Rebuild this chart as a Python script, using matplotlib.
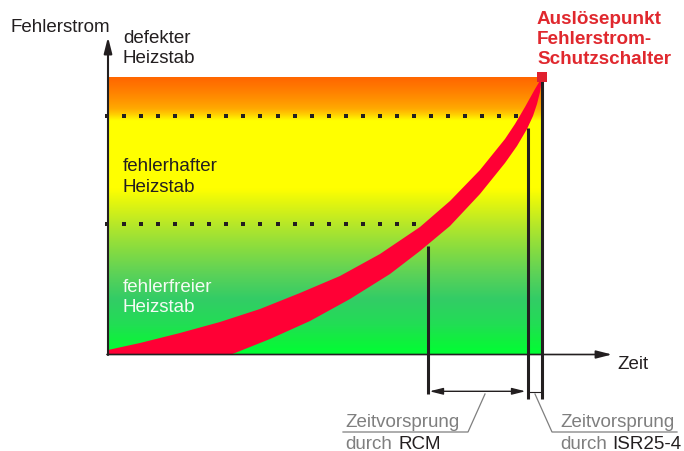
import numpy as np
import matplotlib
matplotlib.use('Agg')
import matplotlib.pyplot as plt
from matplotlib.colors import to_rgb
from matplotlib.patches import Rectangle

plt.rcParams['font.family'] = ['Liberation Sans', 'DejaVu Sans']

# ---------------- data (time / fault-current units) ----------------
upper_t = [0, 32, 72, 112, 152, 192, 232, 272, 312, 342, 372, 397, 407, 417, 422, 427, 430, 434]
upper_i = [4, 11, 21, 32, 45, 61, 78, 100, 127, 153, 184, 215, 230, 247, 256, 265, 270, 277]
lower_t = [0, 62, 122, 162, 202, 242, 282, 312, 342, 372, 397, 409, 419, 425, 429, 432, 434]
lower_i = [-41, -21, -1, 15, 33, 55, 80, 103, 128, 160, 191, 208, 225, 238, 250, 262, 277]

t_end = 434
i_top = 276.3
thresholds_i = [130, 238]           # fehlerhafter / defekter limit
thresholds_end_t = [307, 409]
marker_t = [319.5, 419.5, 434]      # RCM, ISR25-4, trip
marker_i_start = [108, 226, 276.3]
trip_point = (433.5, 277.5)

zone_labels = ['defekter\nHeizstab', 'fehlerhafter\nHeizstab', 'fehlerfreier\nHeizstab']
zone_baselines = [(312.3, 292.3), (184, 163.3), (63.3, 42.7)]
zone_colors = ['#231F20', '#231F20', '#F4FBF4']
trip_label = ['Auslösepunkt', 'Fehlerstrom-', 'Schutzschalter']

grad_stops = [(0, '#00FF33'), (15, '#12EE40'), (30, '#22DD55'), (55, '#33CC66'),
              (80, '#5CD258'), (105, '#88DC40'), (130, '#B8E828'), (150, '#E0F510'),
              (165, '#FFFF00'), (233, '#FFFF00'), (239, '#FFD000'), (245, '#FFAA00'),
              (255, '#FF9000'), (265, '#FF7A00'), (276.3, '#FF6600')]

dark = '#231F20'
gray = '#7F7F7F'
red_band = '#FF0035'
red_text = '#E0282E'
fs = 13.5

fig = plt.figure(figsize=(6.84, 4.52), dpi=100)
ax = fig.add_axes([0, 0, 1, 1])
ax.set_xlim(-108, 576)
ax.set_ylim(-97, 355)
ax.axis('off')

# gradient background
ys = np.linspace(0, i_top, 600)
sy = [s[0] for s in grad_stops]
rgb = np.array([to_rgb(s[1]) for s in grad_stops])
img = np.stack([np.interp(ys, sy, rgb[:, k]) for k in range(3)], axis=-1)[:, None, :]
ax.imshow(img, extent=[0, t_end, 0, i_top], origin='lower', aspect='auto',
          interpolation='bilinear', zorder=1)

# dotted thresholds (square dots)
dot_step = 17.05
for yi, te in zip(thresholds_i, thresholds_end_t):
    xs = np.arange(-1, te + 1, dot_step)
    ax.plot(xs, np.full_like(xs, yi), ls='none', marker='s', ms=3.1, mew=0,
            color=dark, zorder=2)

# red band
clip = Rectangle((0, 0), t_end, i_top + 2, transform=ax.transData)
poly_t = list(upper_t) + list(lower_t[::-1])
poly_i = list(upper_i) + list(lower_i[::-1])
band = ax.fill(poly_t, poly_i, color=red_band, lw=0, zorder=3)[0]
band.set_clip_path(clip)

# vertical marker lines
ends = [-40, -45, -45]
for t, i0, e in zip(marker_t, marker_i_start, ends):
    ax.plot([t, t], [i0, e], color=dark, lw=2.2, solid_capstyle='butt', zorder=4)

# trip point square
ax.plot(*trip_point, marker='s', ms=6.5, color='#E0202E', mew=0, zorder=5)

# axes with arrows
ax.annotate('', xy=(0, 317), xytext=(0, -1),
            arrowprops=dict(arrowstyle='-|>,head_length=0.95,head_width=0.24',
                            mutation_scale=10, lw=1.5, color=dark,
                            shrinkA=0, shrinkB=0), zorder=6)
ax.annotate('', xy=(504, -0.5), xytext=(-1, -0.5),
            arrowprops=dict(arrowstyle='-|>,head_length=0.95,head_width=0.24',
                            mutation_scale=10, lw=1.2, color=dark,
                            shrinkA=0, shrinkB=0), zorder=6)

# double arrow and short link
ax.annotate('', xy=(marker_t[1] - 2, -37.3), xytext=(marker_t[0] + 2, -37.3),
            arrowprops=dict(arrowstyle='<|-|>,head_length=0.8,head_width=0.2',
                            mutation_scale=10, lw=1.0, color=dark,
                            shrinkA=0, shrinkB=0), zorder=6)
ax.plot([marker_t[1] + 1.5, marker_t[2] - 1.5], [-38, -38], color=dark, lw=0.8)

# leader lines
ax.plot([377, 360, 235], [-40, -78, -78], color=gray, lw=0.9)
ax.plot([427, 444, 569], [-40, -78, -78], color=gray, lw=0.9)

# texts
ax.text(-98, 323, 'Fehlerstrom', fontsize=fs, color=dark, va='baseline')
for lab, bl, c in zip(zone_labels, zone_baselines, zone_colors):
    for line, b in zip(lab.split('\n'), bl):
        ax.text(15, b, line, fontsize=fs, color=c, va='baseline', zorder=7)
for line, b in zip(trip_label, [331.5, 310.8, 291.5]):
    ax.text(429, b, line, fontsize=13.6, color=red_text, fontweight='bold',
            va='baseline')
ax.text(509, -14.3, 'Zeit', fontsize=fs, color=dark, va='baseline')

ax.text(237, -72.3, 'Zeitvorsprung', fontsize=fs, color=gray, va='baseline')
ax.text(237, -94, 'durch', fontsize=fs, color=gray, va='baseline')
ax.text(290.3, -94, 'RCM', fontsize=fs, color=dark, va='baseline')
ax.text(452, -72.3, 'Zeitvorsprung', fontsize=fs, color=gray, va='baseline')
ax.text(452, -94, 'durch', fontsize=fs, color=gray, va='baseline')
ax.text(504.7, -94, 'ISR25-4', fontsize=fs, color=dark, va='baseline')

fig.savefig('out.png', dpi=100)
